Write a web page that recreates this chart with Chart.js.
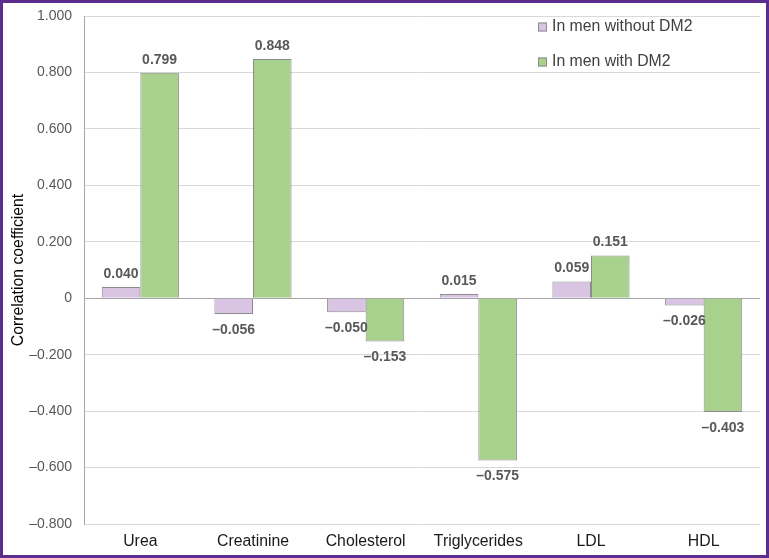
<!DOCTYPE html>
<html>
<head>
<meta charset="utf-8">
<script src="https://cdn.jsdelivr.net/npm/chart.js@4.4.0/dist/chart.umd.min.js"></script>
<style>
  html, body { margin: 0; padding: 0; background: #fff; }
  #wrap { width: 763px; height: 552px; border: 3px solid #5b2d8e; }
</style>
</head>
<body>
<div id="wrap"><canvas id="myChart" width="763" height="552"></canvas></div>
<script>
const categories = ['Urea', 'Creatinine', 'Cholesterol', 'Triglycerides', 'LDL', 'HDL'];
const withoutDM2 = [0.040, -0.056, -0.050, 0.015, 0.059, -0.026];
const withDM2 = [0.799, 0.848, -0.153, -0.575, 0.151, -0.403];
const seriesNames = ['In men without DM2', 'In men with DM2'];
const yMin = -0.8, yMax = 1.0, yStep = 0.2;

const FONT = '"Liberation Sans", Arial, sans-serif';

function fmt(v) {
    if (Math.abs(v) < 1e-9) return '0';
    const s = Math.abs(v).toFixed(3);
    return v < 0 ? '\u2013' + s : s;
}

// value labels over / under each bar
const valueLabels = {
    id: 'valueLabels',
    afterDatasetsDraw(chart) {
        const c = chart.ctx;
        c.save();
        c.font = 'bold 14px ' + FONT;
        c.fillStyle = '#595959';
        c.textAlign = 'center';
        c.textBaseline = 'middle';
        chart.data.datasets.forEach((ds, i) => {
            chart.getDatasetMeta(i).data.forEach((bar, j) => {
                const v = ds.data[j];
                const y = v >= 0 ? bar.y - 13 : bar.y + 16;
                c.fillText(fmt(v), bar.x, y);
            });
        });
        c.restore();
    }
};

// legend drawn inside the plot, top right
const innerLegend = {
    id: 'innerLegend',
    afterDraw(chart) {
        const c = chart.ctx;
        const a = chart.chartArea;
        c.save();
        c.font = '15.8px ' + FONT;
        c.textBaseline = 'middle';
        chart.data.datasets.forEach((ds, i) => {
            const x = a.right - 222;
            const y = a.top + 11 + i * 35;
            c.fillStyle = ds.backgroundColor;
            c.fillRect(x, y - 4.5, 9, 9);
            c.strokeStyle = '#8c8c8c';
            c.lineWidth = 1;
            c.strokeRect(x + 0.5, y - 4, 8, 8);
            c.fillStyle = '#404040';
            c.fillText(ds.label, x + 14, y);
        });
        c.restore();
    }
};

const ctx = document.getElementById('myChart').getContext('2d');
const myChart = new Chart(ctx, {
    type: 'bar',
    data: {
        labels: categories,
        datasets: [{
            label: seriesNames[0],
            data: withoutDM2,
            backgroundColor: '#d9c4e4',
            borderColor: '#8c8c8c',
            borderWidth: 1
        }, {
            label: seriesNames[1],
            data: withDM2,
            backgroundColor: '#a9d18e',
            borderColor: '#8c8c8c',
            borderWidth: 1
        }]
    },
    options: {
        responsive: false,
        animation: false,
        layout: {
            padding: { left: 0, top: 13, right: 6, bottom: 0 }
        },
        datasets: {
            bar: {
                categoryPercentage: 0.685,
                barPercentage: 1
            }
        },
        scales: {
            x: {
                grid: { display: false },
                border: { display: false },
                ticks: {
                    color: '#1a1a1a',
                    padding: 0,
                    font: { family: FONT, size: 15.8 }
                },
                afterFit(scale) { scale.height = 31; }
            },
            y: {
                min: yMin,
                max: yMax,
                ticks: {
                    stepSize: yStep,
                    color: '#595959',
                    padding: 12,
                    font: { family: FONT, size: 14 },
                    callback: (v) => fmt(v)
                },
                grid: {
                    drawTicks: false,
                    color: (c) => (c.tick && Math.abs(c.tick.value) < 1e-9) ? '#a6a6a6' : '#d9d9d9'
                },
                border: { display: true, color: '#a6a6a6' },
                title: {
                    display: true,
                    text: 'Correlation coefficient',
                    color: '#000',
                    padding: { top: 6, bottom: 0 },
                    font: { family: FONT, size: 15.8 }
                },
                afterFit(scale) {
                    scale.width = 81;
                    scale.paddingTop = 7;
                    scale.paddingBottom = 7;
                }
            }
        },
        plugins: {
            legend: { display: false },
            tooltip: { enabled: false }
        }
    },
    plugins: [valueLabels, innerLegend]
});
</script>
</body>
</html>
